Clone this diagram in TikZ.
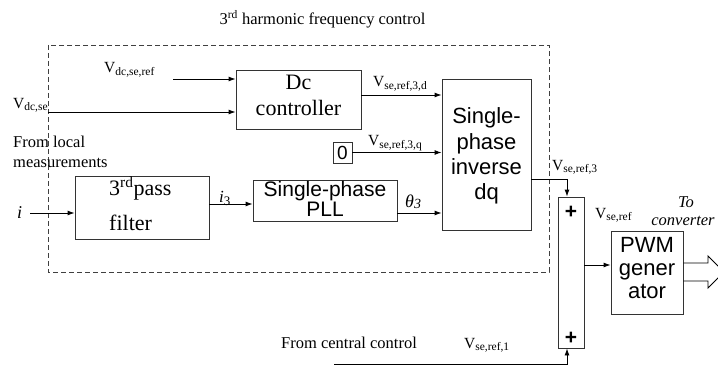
\documentclass[tikz,border=0pt]{standalone}
\usepackage{fontspec}
\setmainfont{Liberation Serif}
\setsansfont{Liberation Sans}
\usetikzlibrary{arrows.meta,calc}
\newcommand{\fsz}[2]{\fontsize{#1}{#2}\selectfont}
\newcommand{\Vs}[1]{V\raisebox{-2.5pt}{\fsz{11.5}{12}#1}}
\begin{document}
\begin{tikzpicture}[x=1pt,y=-1pt,
  blk/.style={draw=black!80, line width=0.9pt, inner sep=0pt},
  txt/.style={inner sep=0pt, anchor=base},
  stxt/.style={txt, font=\sffamily\fsz{22}{25}},
  lbl/.style={inner sep=0pt, anchor=base west, font=\fsz{15.5}{17}},
  arr/.style={-{Latex[length=7pt,width=5pt]}, line width=0.9pt},
  ln/.style={line width=0.9pt}]
\useasboundingbox (0,0) rectangle (718,369);
\clip (0,0) rectangle (718,369);

% title and dashed region
\node[txt, font=\fsz{16.5}{18}] (title) at (322.5,25) {3\textsuperscript{rd} harmonic frequency control};
\draw[black!75, line width=0.9pt, dash pattern=on 5pt off 3pt] (48,45) rectangle (549,272);

% boxes
\node[blk, minimum width=125, minimum height=59] (dc) at (298.5,99.5) {};
\node[blk, minimum width=89, minimum height=151] (dq) at (486.5,154.5) {};
\node[blk, minimum width=144, minimum height=41] (pll) at (325,200.5) {};
\node[blk, minimum width=134, minimum height=63] (filt) at (142,207.5) {};
\node[blk, minimum width=19, minimum height=21, font=\sffamily\fsz{19}{20}] (zero) at (342.5,152.5) {0};
\node[blk, minimum width=26, minimum height=151] (sum) at (571,272.5) {};
\node[blk, minimum width=72, minimum height=83] (pwm) at (647,272.5) {};

% box texts
\node[txt, font=\fsz{22}{25}] (dc1) at (298.5,90) {Dc};
\node[txt, font=\fsz{22}{25}] (dc2) at (298.5,115) {controller};
\node[stxt] (dq1) at (486.5,124) {Single-};
\node[stxt] (dq2) at (486.5,149) {phase};
\node[stxt] (dq3) at (486.5,174) {inverse};
\node[stxt] (dq4) at (486.5,199) {dq};
\node[txt, font=\sffamily\fsz{21}{22}] (pll1) at (325,196) {Single-phase};
\node[txt, font=\sffamily\fsz{21}{22}] (pll2) at (325,216) {PLL};
\node[txt, anchor=base west, font=\fsz{22}{25}] (f1) at (109,195) {3\textsuperscript{rd}pass};
\node[txt, anchor=base west, font=\fsz{22}{25}] (f2) at (109,230) {filter};
\node[stxt] (p1) at (647,252) {PWM};
\node[stxt] (p2) at (647,275) {gener};
\node[stxt] (p3) at (647,298) {ator};
\node[inner sep=0pt, font=\sffamily\bfseries\fsz{21}{22}] (plus1) at (571,212) {+};
\node[inner sep=0pt, font=\sffamily\bfseries\fsz{21}{22}] (plus2) at (571,338) {+};

% labels
\node[lbl] (lvdcref) at (104,73) {\Vs{dc,se,ref}};
\node[lbl] (lvdcse) at (13,108) {\Vs{dc,se}};
\node[lbl, font=\fsz{16.5}{18}] (loc1) at (13,147) {From local};
\node[lbl, font=\fsz{16.5}{18}] (loc2) at (13,167) {measurements};
\node[lbl, font=\itshape\fsz{18}{20}] (li) at (17,218) {i};
\node[lbl, font=\fsz{17}{20}] (li3) at (219,202) {\textit{i}\raisebox{-3pt}{\fsz{13}{14}3}};
\node[lbl, font=\itshape\fsz{18}{20}] (lth) at (405,207) {θ\raisebox{-1.5pt}{\fsz{14}{14}3}};
\node[lbl] (lvd) at (373,87) {\Vs{se,ref,3,d}};
\node[lbl] (lvq) at (368,146) {\Vs{se,ref,3,q}};
\node[lbl] (lv3) at (552,170) {\Vs{se,ref,3}};
\node[lbl] (lvref) at (595,218) {\Vs{se,ref}};
\node[txt, font=\itshape\fsz{16.5}{18}] (lto) at (686,207) {To};
\node[txt, font=\itshape\fsz{16.5}{18}] (lconv) at (683,225) {converter};
\node[lbl, font=\fsz{16.5}{18}] (lcen) at (281,348) {From central control};
\node[lbl] (lv1) at (464,348) {\Vs{se,ref,1}};

% helper coordinates
\coordinate (vrefS) at (173,79);
\coordinate (vseS) at (48,112);
\coordinate (iS) at (30,213);
\coordinate (cS) at (334,364);
\coordinate (y95) at (0,95);
\coordinate (y204) at (0,204);
\coordinate (y213) at (0,213);
\coordinate (y179) at (0,179);
\coordinate (y265) at (0,265);
\coordinate (x567) at (567,0);
\coordinate (o1) at (708,263);
\coordinate (o2) at (708,281);
\coordinate (h1) at (708,256);
\coordinate (h2) at (708,288);
\coordinate (tip) at (724,272);

% connectors
\draw[arr] (vrefS) -- (vrefS -| dc.west);
\draw[arr] (vseS) -- (vseS -| dc.west);
\draw[arr] (iS) -- (iS -| filt.west);
\draw[arr] (filt.east |- y204) -- (pll.west |- y204);
\draw[arr] (pll.east |- y213) -- (dq.west |- y213);
\draw[arr] (dc.east |- y95) -- (dq.west |- y95);
\draw[arr] (zero.east) -- (zero.east -| dq.west);
\draw[arr] (dq.east |- y179) -- (x567 |- y179) -- (x567 |- sum.north);
\draw[arr] (cS) -- (cS -| x567) -- (x567 |- sum.south);
\draw[arr] (sum.east |- y265) -- (pwm.west |- y265);
\draw[ln] (pwm.east |- o1) -- (o1) -- (h1) -- (tip) -- (h2) -- (o2) -- (pwm.east |- o2);
\end{tikzpicture}
\end{document}
